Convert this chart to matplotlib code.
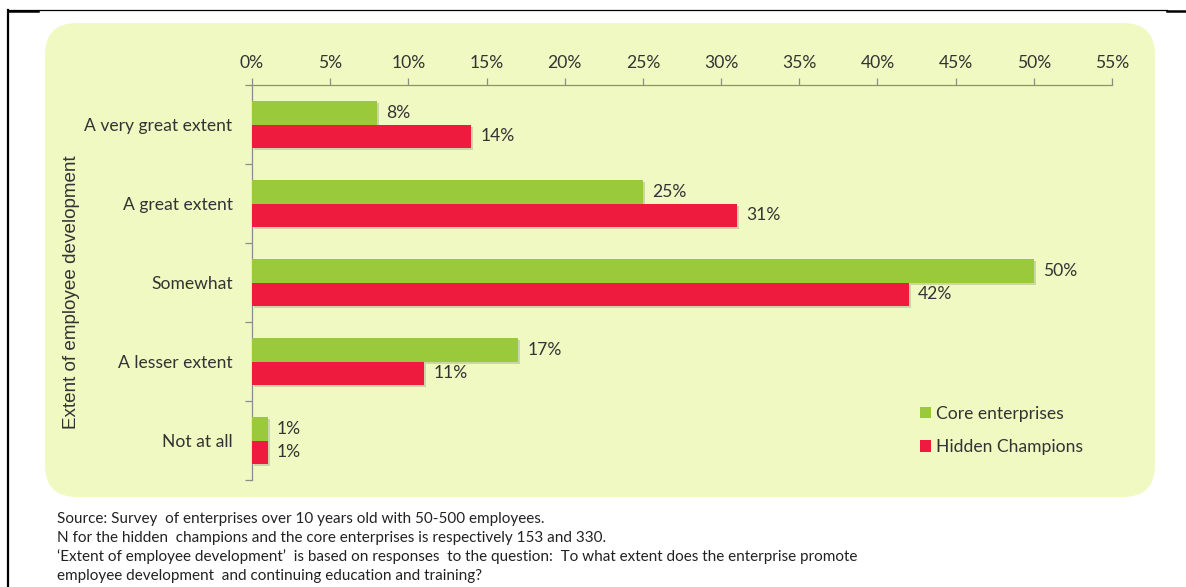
"""Extent of employee development: core enterprises vs hidden champions."""

import matplotlib

matplotlib.use("Agg")
import matplotlib.pyplot as plt
import matplotlib.patheffects as pe
import numpy as np
from matplotlib.patches import FancyBboxPatch, Patch

categories = ["A very great extent", "A great extent", "Somewhat", "A lesser extent", "Not at all"]
core = [8, 25, 50, 17, 1]
hidden = [14, 31, 42, 11, 1]
series_names = ["Core enterprises", "Hidden Champions"]
xticks = list(range(0, 56, 5))
notes = [
    "Source: Survey  of enterprises over 10 years old with 50-500 employees.",
    "N for the hidden  champions and the core enterprises is respectively 153 and 330.",
    "\u2018Extent of employee development\u2019  is based on responses  to the question:  To what extent does the enterprise promote",
    "employee development  and continuing education and training?",
]

GREEN = "#9AC93C"
RED = "#EE1B3E"
BOX = "#F0F9C2"
TEXT = "#333333"
AXIS = "#8C8C8C"
FONT = ["Lato", "DejaVu Sans"]
FS = 12.6

W, H = 1186, 587
fig = plt.figure(figsize=(W / 100, H / 100), dpi=100)

# background layer in pixel coordinates
bg = fig.add_axes([0, 0, 1, 1], zorder=-1)
bg.set_xlim(0, W)
bg.set_ylim(H, 0)
bg.axis("off")
bg.add_patch(FancyBboxPatch((45, 23), 1110, 474, boxstyle="round,pad=0,rounding_size=32",
                            facecolor=BOX, edgecolor="none"))
bg.plot([8, 8], [10, H], color="black", lw=1.6)
bg.plot([8, 1167], [10, 10], color="black", lw=0.9)
bg.plot([8, 38], [10.5, 10.5], color="black", lw=1.8)
bg.plot([1167, W], [11, 11], color="black", lw=1.8)
bg.text(72, 292, "Extent of employee development", rotation=90, ha="center", va="center",
        fontsize=13.6, color=TEXT, family=["Liberation Sans", "DejaVu Sans"])
for i, line in enumerate(notes):
    bg.text(57, 519 + 19 * i, line, ha="left", va="center", fontsize=11, color="#222222", family=FONT)

ax = fig.add_axes([252 / W, 1 - 480 / H, 860 / W, 395 / H])
ax.set_facecolor("none")

y = np.arange(len(categories))
h = 0.3
shadow = [pe.SimplePatchShadow(offset=(1.5, -1.5), alpha=0.25, shadow_rgbFace="#666666"), pe.Normal()]
b1 = ax.barh(y - h / 2, core, height=h, color=GREEN, path_effects=shadow, zorder=3)
b2 = ax.barh(y + h / 2, hidden, height=h, color=RED, path_effects=shadow, zorder=3)

for bars, vals in ((b1, core), (b2, hidden)):
    for bar, v in zip(bars, vals):
        ax.text(v + 0.6, bar.get_y() + bar.get_height() / 2, f"{v}%", ha="left", va="center",
                fontsize=FS, color=TEXT, family=FONT)

ax.set_xlim(0, 55)
ax.set_ylim(len(categories) - 0.5, -0.5)
ax.xaxis.tick_top()
ax.set_xticks(xticks)
ax.set_xticklabels([f"{t}%" for t in xticks], family=FONT, fontsize=FS, color=TEXT)
ax.tick_params(axis="x", length=5, width=0.9, color=AXIS, pad=5)

ax.set_yticks(np.arange(len(categories) + 1) - 0.5)
ax.set_yticklabels([])
ax.tick_params(axis="y", which="major", length=5, width=0.9, color=AXIS)
ax.set_yticks(y, minor=True)
ax.set_yticklabels(categories, minor=True, family=FONT, fontsize=FS, color=TEXT)
ax.tick_params(axis="y", which="minor", length=0, pad=14)

for s in ("right", "bottom"):
    ax.spines[s].set_visible(False)
for s in ("top", "left"):
    ax.spines[s].set_color(AXIS)
    ax.spines[s].set_linewidth(0.9)

handles = [Patch(facecolor=GREEN), Patch(facecolor=RED)]
leg = ax.legend(handles, series_names, loc="upper left", bbox_to_anchor=(904 / W, 1 - 390 / H),
                bbox_transform=fig.transFigure, frameon=False, handlelength=0.65, handleheight=0.65,
                handletextpad=0.25, labelspacing=1.0, prop={"family": FONT, "size": FS})
for t in leg.get_texts():
    t.set_color(TEXT)

fig.savefig("out.png", dpi=100)
